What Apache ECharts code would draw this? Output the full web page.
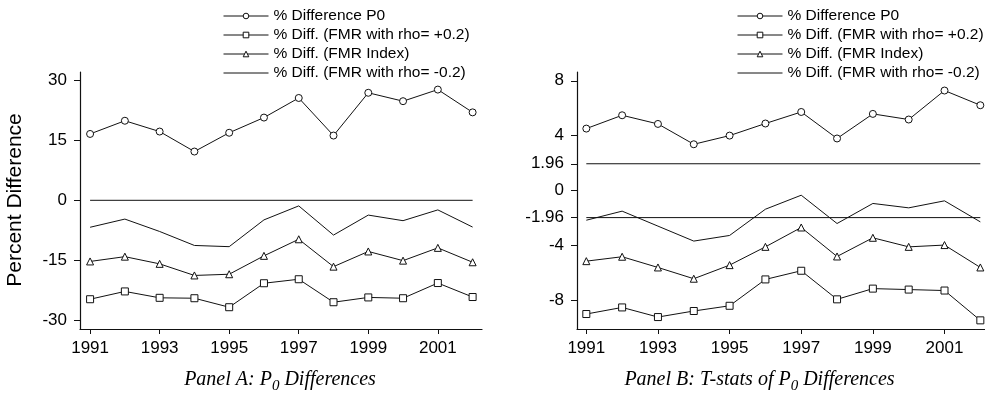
<!DOCTYPE html>
<html>
<head>
<meta charset="utf-8">
<script src="https://cdn.jsdelivr.net/npm/echarts@6/dist/echarts.min.js"></script>
<style>
  html, body { margin: 0; padding: 0; background: #fff; }
  #chart { width: 985px; height: 394px; }
</style>
</head>
<body>
<div id="chart"></div>
<script>
// values
const years = [1991, 1992, 1993, 1994, 1995, 1996, 1997, 1998, 1999, 2000, 2001, 2002];
const xTicks = [1991, 1993, 1995, 1997, 1999, 2001];

const seriesNames = [
  '% Difference P0',
  '% Diff. (FMR with rho= +0.2)',
  '% Diff. (FMR Index)',
  '% Diff. (FMR with rho= -0.2)'
];

// Panel A: percent differences
const p0A = [16.6, 19.9, 17.2, 12.2, 16.9, 20.7, 25.6, 16.2, 26.9, 24.8, 27.7, 22.0];
const rhoPlusA = [-24.75, -22.8, -24.4, -24.5, -26.75, -20.75, -19.75, -25.5, -24.3, -24.5, -20.7, -24.2];
const fmrIndexA = [-15.3, -14.1, -15.9, -18.8, -18.5, -13.9, -9.75, -16.6, -12.8, -15.1, -11.9, -15.5];
const rhoMinusA = [-6.75, -4.7, -7.8, -11.3, -11.6, -4.9, -1.4, -8.7, -3.7, -5.1, -2.4, -6.7];
const refA = [0];
const yTicksA = [-30, -15, 0, 15, 30];

// Panel B: t-stats
const p0B = [4.52, 5.49, 4.86, 3.38, 4.01, 4.89, 5.73, 3.80, 5.59, 5.18, 7.29, 6.22];
const rhoPlusB = [-8.98, -8.50, -9.20, -8.76, -8.38, -6.46, -5.83, -7.91, -7.13, -7.20, -7.27, -9.44];
const fmrIndexB = [-5.13, -4.81, -5.59, -6.41, -5.42, -4.09, -2.68, -4.79, -3.43, -4.09, -3.96, -5.59];
const rhoMinusB = [-2.15, -1.49, -2.58, -3.67, -3.26, -1.35, -0.33, -2.39, -0.93, -1.25, -0.74, -2.27];
const refB = [1.96, -1.96];
const yTicksB = [-8, -4, -1.96, 0, 1.96, 4, 8];

const INK = '#111';
const SANS = '"Liberation Sans", Arial, sans-serif';
const SERIF = '"Liberation Serif", "Times New Roman", serif';

function pairs(vals) {
  return years.map((y, i) => [y, vals[i]]);
}

function lineSeries(name, vals, symbol, idx) {
  return {
    name: name,
    type: 'line',
    xAxisIndex: idx,
    yAxisIndex: idx,
    data: pairs(vals),
    symbol: symbol,
    symbolSize: 7,
    showSymbol: symbol !== 'none',
    lineStyle: { color: INK, width: 1 },
    itemStyle: { color: '#fff', borderColor: INK, borderWidth: 1 },
    emphasis: { disabled: true },
    z: 3
  };
}

function refSeries(v, idx) {
  return {
    type: 'line',
    xAxisIndex: idx,
    yAxisIndex: idx,
    data: [[years[0], v], [years[years.length - 1], v]],
    symbol: 'none',
    lineStyle: { color: INK, width: 1 },
    silent: true,
    z: 2
  };
}

function xAxis(idx, min, max) {
  return {
    type: 'value',
    gridIndex: idx,
    min: min,
    max: max,
    axisLine: { show: true, onZero: false, lineStyle: { color: INK, width: 1.2 } },
    axisTick: { show: true, length: 5, customValues: xTicks, lineStyle: { color: INK } },
    axisLabel: {
      customValues: xTicks,
      margin: 11,
      color: '#000',
      fontFamily: SANS,
      fontSize: 17,
      formatter: v => String(v)
    },
    splitLine: { show: false }
  };
}

function yAxis(idx, min, max, ticks) {
  return {
    type: 'value',
    gridIndex: idx,
    min: min,
    max: max,
    axisLine: { show: true, onZero: false, lineStyle: { color: INK, width: 1.2 } },
    axisTick: { show: true, length: 6, customValues: ticks, lineStyle: { color: INK } },
    axisLabel: {
      customValues: ticks,
      margin: 13,
      color: '#000',
      fontFamily: SANS,
      fontSize: 17,
      formatter: v => String(v)
    },
    splitLine: { show: false }
  };
}

function legend(left) {
  return {
    data: seriesNames.map((n, i) => i === 3
      ? { name: n, itemStyle: { color: 'transparent', borderColor: 'transparent', borderWidth: 0 } }
      : { name: n }),
    orient: 'vertical',
    left: left,
    top: 3,
    itemWidth: 45,
    itemHeight: 7,
    itemGap: 3,
    selectedMode: false,
    itemStyle: { borderWidth: 1 },
    lineStyle: { width: 1 },
    textStyle: { color: '#000', fontFamily: SANS, fontSize: 15.5, lineHeight: 16 }
  };
}

function panelTitle(label, x) {
  return {
    type: 'text',
    x: x,
    y: 380,
    silent: true,
    style: {
      text: '{t|' + label + ' P}{s|0}{t| Differences}',
      align: 'center',
      verticalAlign: 'middle',
      fill: '#000',
      rich: {
        t: { fontFamily: SERIF, fontStyle: 'italic', fontSize: 20, fill: '#000' },
        s: { fontFamily: SERIF, fontStyle: 'italic', fontSize: 15, fill: '#000', padding: [13, 0, 0, 0] }
      }
    }
  };
}

const chart = echarts.init(document.getElementById('chart'), null, { renderer: 'canvas' });

chart.setOption({
  backgroundColor: '#fff',
  animation: false,
  legend: [legend(218), legend(732)],
  grid: [
    { left: 80, top: 72, width: 402, height: 257, outerBoundsMode: 'none', containLabel: false },
    { left: 577, top: 72, width: 413, height: 257, outerBoundsMode: 'none', containLabel: false }
  ],
  xAxis: [xAxis(0, 1990.71, 2002.27), xAxis(1, 1990.74, 2002.27)],
  yAxis: [yAxis(0, -32.2, 32.1, yTicksA), yAxis(1, -10.07, 8.64, yTicksB)],
  series: [
    lineSeries(seriesNames[0], p0A, 'circle', 0),
    lineSeries(seriesNames[1], rhoPlusA, 'rect', 0),
    lineSeries(seriesNames[2], fmrIndexA, 'triangle', 0),
    lineSeries(seriesNames[3], rhoMinusA, 'none', 0),
    ...refA.map(v => refSeries(v, 0)),
    lineSeries(seriesNames[0], p0B, 'circle', 1),
    lineSeries(seriesNames[1], rhoPlusB, 'rect', 1),
    lineSeries(seriesNames[2], fmrIndexB, 'triangle', 1),
    lineSeries(seriesNames[3], rhoMinusB, 'none', 1),
    ...refB.map(v => refSeries(v, 1))
  ],
  graphic: [
    {
      type: 'text',
      x: 15,
      y: 200,
      rotation: Math.PI / 2,
      silent: true,
      style: {
        text: 'Percent Difference',
        align: 'center',
        verticalAlign: 'middle',
        fill: '#000',
        font: '21px ' + SANS
      }
    },
    panelTitle('Panel A:', 280),
    panelTitle('Panel B: T-stats of', 759.5)
  ]
});
</script>
</body>
</html>
